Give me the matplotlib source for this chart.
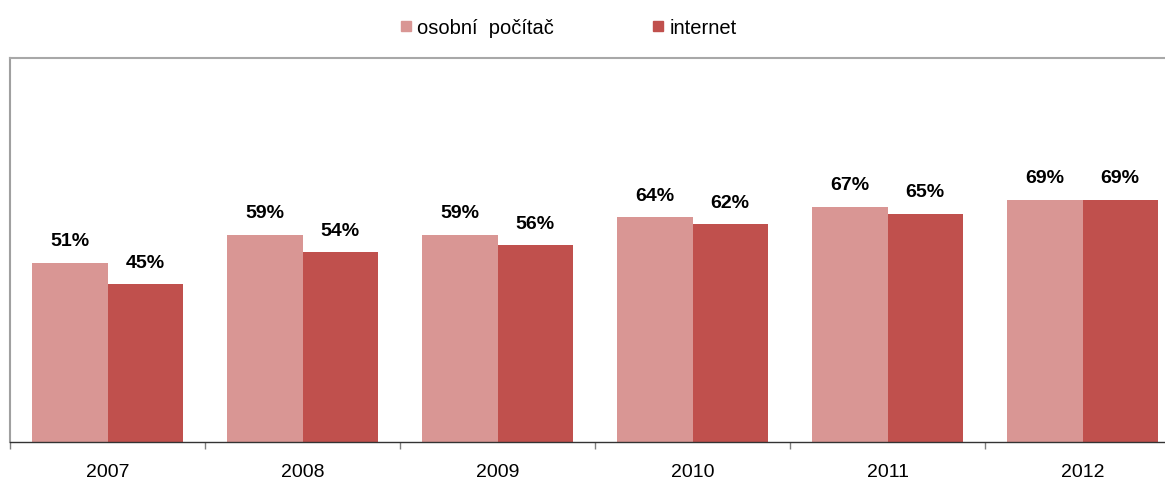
import matplotlib.pyplot as plt
import numpy as np
from matplotlib.lines import Line2D

plt.rcParams["font.family"] = ["Liberation Sans", "DejaVu Sans"]

years = ["2007", "2008", "2009", "2010", "2011", "2012"]
pc = [51, 59, 59, 64, 67, 69]
internet = [45, 54, 56, 62, 65, 69]
series_names = ["osobní  počítač", "internet"]

PC_COLOR = "#D99694"
NET_COLOR = "#C0504D"

W, H = 1165, 487
fig = plt.figure(figsize=(W / 100, H / 100), dpi=100)
ax = fig.add_axes([10 / W, 45 / H, 1170 / W, 384 / H])

x = np.arange(len(years))
bw = 0.385
b1 = ax.bar(x - bw / 2, pc, bw, color=PC_COLOR, label=series_names[0])
b2 = ax.bar(x + bw / 2, internet, bw, color=NET_COLOR, label=series_names[1])

for bars, vals in [(b1, pc), (b2, internet)]:
    for rect, v in zip(bars, vals):
        ax.annotate(f"{v}%", (rect.get_x() + rect.get_width() / 2, rect.get_height()),
                    xytext=(0, 9), textcoords="offset points", ha="center", va="bottom",
                    fontsize=14, fontweight="bold")

ax.set_xlim(-0.5, len(years) - 0.5)
ax.set_ylim(0, 109.4)
ax.set_yticks([])
ax.set_xticks(x)
ax.set_xticklabels(years, fontsize=14)
ax.tick_params(axis="x", which="major", length=0, pad=16)
ax.set_xticks(np.arange(-0.5, len(years)), minor=True)
ax.tick_params(axis="x", which="minor", length=5, color="#808080", width=1)

ax.spines["left"].set_color("#A0A0A0")
ax.spines["left"].set_linewidth(1.5)
ax.spines["top"].set_color("#A8A8A8")
ax.spines["top"].set_linewidth(1.5)
ax.spines["right"].set_visible(False)
ax.spines["bottom"].set_color("#333333")
ax.spines["bottom"].set_linewidth(1)

handles = [
    Line2D([0], [0], marker="s", linestyle="none", markersize=7.5, color=PC_COLOR),
    Line2D([0], [0], marker="s", linestyle="none", markersize=7.5, color=NET_COLOR),
]
fig.legend(handles, series_names, loc="center", bbox_to_anchor=(568 / W, 1 - 28 / H),
           ncol=2, frameon=False, fontsize=14.5, handlelength=0.6, handletextpad=0.25,
           columnspacing=4.9)

fig.savefig("out.png", dpi=100)
